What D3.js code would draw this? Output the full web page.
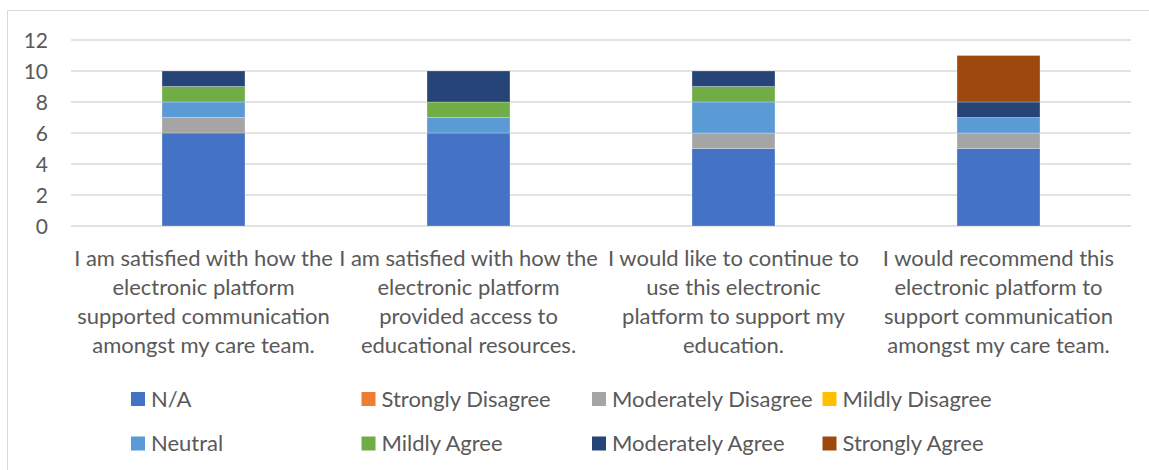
<!DOCTYPE html>
<html><head><meta charset="utf-8">
<script src="https://cdn.jsdelivr.net/npm/d3@7"></script>
<style>body{margin:0;background:#fff;}svg{display:block;}text{font-family:Lato,"Open Sans",sans-serif;fill:#595959;}</style>
</head><body>
<svg id="c" width="1149" height="470"></svg>
<script>
const categoryLines = [
  ["I am satisfied with how the", "electronic platform", "supported communication", "amongst my care team."],
  ["I am satisfied with how the", "electronic platform", "provided access to", "educational resources."],
  ["I would like to continue to", "use this electronic", "platform to support my", "education."],
  ["I would recommend this", "electronic platform to", "support communication", "amongst my care team."]
];
const categories = categoryLines.map(l => l.join(" "));
const seriesNames = ["N/A", "Strongly Disagree", "Moderately Disagree", "Mildly Disagree", "Neutral", "Mildly Agree", "Moderately Agree", "Strongly Agree"];
const seriesColors = ["#4472C4", "#ED7D31", "#A5A5A5", "#FFC000", "#5B9BD5", "#70AD47", "#264478", "#9E480E"];
const naValues = [6, 6, 5, 5];
const stronglyDisagree = [0, 0, 0, 0];
const moderatelyDisagree = [1, 0, 1, 1];
const mildlyDisagree = [0, 0, 0, 0];
const neutral = [1, 1, 2, 1];
const mildlyAgree = [1, 1, 1, 0];
const moderatelyAgree = [1, 2, 1, 1];
const stronglyAgree = [0, 0, 0, 3];
const yTicks = [0, 2, 4, 6, 8, 10, 12];

const seriesValues = [naValues, stronglyDisagree, moderatelyDisagree, mildlyDisagree, neutral, mildlyAgree, moderatelyAgree, stronglyAgree];
const table = categories.map((c, i) => {
  const row = {cat: c};
  seriesNames.forEach((s, j) => row[s] = seriesValues[j][i]);
  return row;
});

const svg = d3.select("#c");
svg.append("rect").attr("x", 7.5).attr("y", 10.5).attr("width", 1160).attr("height", 480)
  .attr("fill", "none").attr("stroke", "#d9d9d9").attr("stroke-width", 1);

const x = d3.scaleBand().domain(categories).range([71, 1131]).paddingInner(0.687).paddingOuter(0.3435);
const y = d3.scaleLinear().domain([0, 12]).range([226, 40]);

svg.append("g").selectAll("line").data(yTicks).join("line")
  .attr("x1", 71).attr("x2", 1131)
  .attr("y1", d => y(d)).attr("y2", d => y(d))
  .attr("stroke", "#d9d9d9").attr("stroke-width", 1.3);

const yAxis = d3.axisLeft(y).tickValues(yTicks).tickSize(0).tickPadding(0);
const ya = svg.append("g").attr("transform", "translate(48,0)").call(yAxis);
ya.select(".domain").remove();
ya.selectAll("text").attr("font-size", 21).attr("fill", "#595959").attr("font-family", "Lato, sans-serif").attr("dy", "0.36em");

const stack = d3.stack().keys(seriesNames)(table);
svg.append("g").selectAll("g").data(stack).join("g")
  .attr("fill", (d, i) => seriesColors[i])
  .selectAll("rect").data(d => d.filter(p => p[1] - p[0] > 0)).join("rect")
  .attr("x", d => x(d.data.cat))
  .attr("width", x.bandwidth())
  .attr("y", d => y(d[1]))
  .attr("height", d => y(d[0]) - y(d[1]))
  .attr("stroke", "rgba(255,255,255,0.35)").attr("stroke-width", 0.7);

const xl = svg.append("g");
categoryLines.forEach((lines, i) => {
  const cx = x(categories[i]) + x.bandwidth() / 2;
  lines.forEach((ln, k) => {
    xl.append("text").attr("x", cx).attr("y", 266 + k * 29)
      .attr("text-anchor", "middle").attr("font-size", 22).text(ln);
  });
});

const lg = svg.append("g");
seriesNames.forEach((s, i) => {
  const col = i % 4, row = Math.floor(i / 4);
  const lx = 131 + col * 230.5, ly = 399 + row * 44.5;
  lg.append("rect").attr("x", lx).attr("y", ly - 7).attr("width", 14).attr("height", 14).attr("fill", seriesColors[i]);
  lg.append("text").attr("x", lx + 20).attr("y", ly).attr("dy", "0.36em").attr("font-size", 22).text(s);
});
</script>
</body></html>
